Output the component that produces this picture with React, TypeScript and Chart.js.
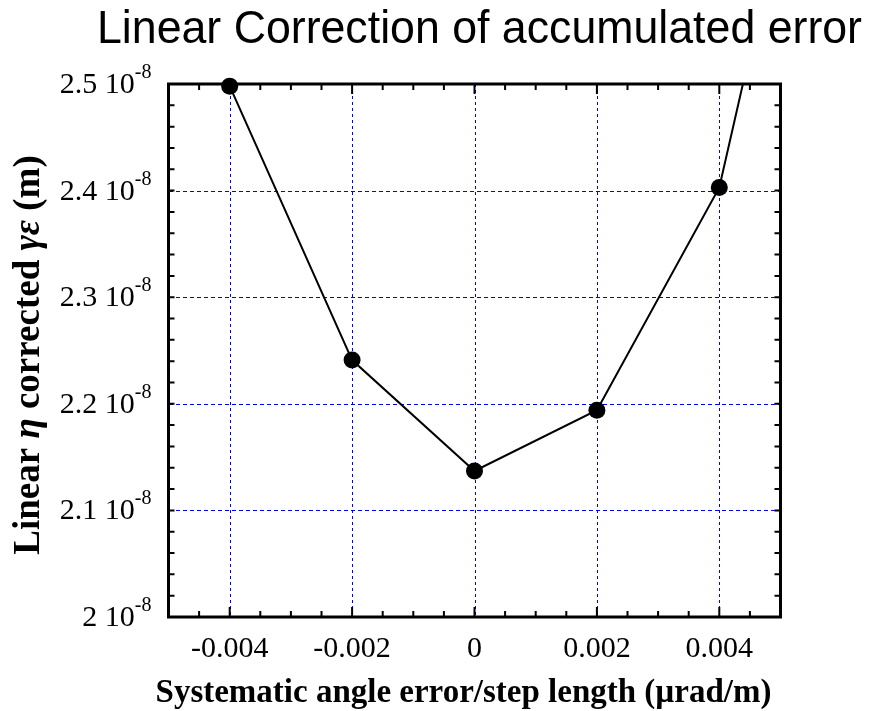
import React, { useEffect, useRef } from "react";
import { Chart, registerables } from "chart.js";
Chart.register(...registerables);

// Data (y values in units of 1e-8 m)
const xValues = [-0.004, -0.002, 0, 0.002, 0.004, 0.006];
const yValues = [2.498, 2.241, 2.137, 2.194, 2.403, 2.906];

const xMin = -0.005;
const xMax = 0.005;
const yMin = 2.0;
const yMax = 2.5;

const xTicks = [-0.004, -0.002, 0, 0.002, 0.004];
const xTickLabels = ["-0.004", "-0.002", "0", "0.002", "0.004"];
const yTicks = [2.0, 2.1, 2.2, 2.3, 2.4, 2.5];
const yTickLabels = ["2", "2.1", "2.2", "2.3", "2.4", "2.5"];
const yExponentBase = " 10";
const yExponent = "-8";
const xMinorStep = 0.0005;
const yMinorStep = 0.02;

const titleText = "Linear Correction of accumulated error";
const xTitleText = "Systematic angle error/step length (\u00b5rad/m)";
const yTitleParts = [
  { t: "Linear ", italic: false },
  { t: "\u03b7", italic: true },
  { t: " corrected ", italic: false },
  { t: "\u03b3\u03b5", italic: true },
  { t: " (m)", italic: false },
];

const SERIF = "'Liberation Serif', 'Times New Roman', serif";
const SANS = "'Liberation Sans', Arial, sans-serif";
const GRID_BLUE = "#0000ff";

const decorPlugin = {
  id: "decor",
  beforeDatasetsDraw(chart: any) {
    const { ctx, chartArea: a, scales } = chart;
    const x = scales.x;
    const y = scales.y;
    ctx.save();
    // grid: crisp dotted blue lines
    ctx.fillStyle = GRID_BLUE;
    const top = Math.round(a.top);
    const bottom = Math.round(a.bottom);
    const left = Math.round(a.left);
    const right = Math.round(a.right);
    xTicks.forEach((v) => {
      const px = Math.round(x.getPixelForValue(v));
      if (px <= left + 2 || px >= right - 2) return;
      for (let yy = top; yy < bottom; yy += 6) {
        ctx.fillRect(px, yy, 1, Math.min(3, bottom - yy));
      }
    });
    yTicks.forEach((v) => {
      const py = Math.round(y.getPixelForValue(v));
      if (py <= top + 2 || py >= bottom - 2) return;
      for (let xx = left; xx < right; xx += 7) {
        ctx.fillRect(xx, py, Math.min(4, right - xx), 1);
      }
    });
    // ticks
    ctx.strokeStyle = "#000";
    ctx.lineWidth = 2;
    const nx = Math.round((xMax - xMin) / xMinorStep);
    for (let i = 1; i < nx; i++) {
      const v = xMin + i * xMinorStep;
      const px = x.getPixelForValue(v);
      const major = xTicks.some((t) => Math.abs(t - v) < 1e-9);
      const len = major ? 10 : 6;
      ctx.beginPath();
      ctx.moveTo(px, a.bottom);
      ctx.lineTo(px, a.bottom - len);
      ctx.moveTo(px, a.top);
      ctx.lineTo(px, a.top + len);
      ctx.stroke();
    }
    const ny = Math.round((yMax - yMin) / yMinorStep);
    for (let i = 1; i < ny; i++) {
      const v = yMin + i * yMinorStep;
      const py = y.getPixelForValue(v);
      ctx.beginPath();
      ctx.moveTo(a.left, py);
      ctx.lineTo(a.left + 6, py);
      ctx.moveTo(a.right, py);
      ctx.lineTo(a.right - 6, py);
      ctx.stroke();
    }
    // frame
    ctx.lineWidth = 3;
    ctx.strokeRect(a.left, a.top, a.right - a.left, a.bottom - a.top);
    ctx.restore();
  },
  afterDraw(chart: any) {
    const { ctx, chartArea: a, scales } = chart;
    const x = scales.x;
    const y = scales.y;
    ctx.save();
    ctx.fillStyle = "#000";
    // x tick labels
    ctx.font = `30px ${SERIF}`;
    ctx.textAlign = "center";
    ctx.textBaseline = "alphabetic";
    xTicks.forEach((v, i) => {
      ctx.fillText(xTickLabels[i], x.getPixelForValue(v), a.bottom + 40);
    });
    // y tick labels with superscript exponent
    yTicks.forEach((v, i) => {
      const py = y.getPixelForValue(v);
      ctx.font = `20px ${SERIF}`;
      const wExp = ctx.measureText(yExponent).width;
      const right = a.left - 17;
      ctx.textAlign = "right";
      ctx.fillText(yExponent, right, py - 6);
      ctx.font = `30px ${SERIF}`;
      ctx.fillText(yTickLabels[i] + yExponentBase, right - wExp, py + 9);
    });
    // title
    ctx.font = `47px ${SANS}`;
    ctx.textAlign = "center";
    const tw = ctx.measureText(titleText).width;
    const sx = Math.min(1, 765 / tw);
    ctx.save();
    ctx.translate(479.5, 43);
    ctx.scale(sx, 1);
    ctx.fillText(titleText, 0, 0);
    ctx.restore();
    // x title
    ctx.font = `bold 33px ${SERIF}`;
    ctx.textAlign = "center";
    ctx.fillText(xTitleText, (a.left + a.right) / 2 - 11, 702);
    // y title (rotated, mixed italics)
    ctx.save();
    ctx.translate(39, 355);
    ctx.rotate(-Math.PI / 2);
    ctx.textAlign = "left";
    const fonts = yTitleParts.map((p) =>
      p.italic ? `italic bold 37px ${SERIF}` : `bold 37px ${SERIF}`
    );
    let total = 0;
    const widths = yTitleParts.map((p, i) => {
      ctx.font = fonts[i];
      const w = ctx.measureText(p.t).width;
      total += w;
      return w;
    });
    let cx = -total / 2;
    yTitleParts.forEach((p, i) => {
      ctx.font = fonts[i];
      ctx.fillText(p.t, cx, 0);
      cx += widths[i];
    });
    ctx.restore();
    ctx.restore();
  },
};

export default function App() {
  const ref = useRef<HTMLCanvasElement | null>(null);
  useEffect(() => {
    if (!ref.current) return;
    const points = xValues.map((v, i) => ({ x: v, y: yValues[i] }));
    const chart = new Chart(ref.current, {
      type: "scatter",
      data: {
        datasets: [
          {
            label: "markers",
            data: points,
            showLine: false,
            pointRadius: 8.5,
            pointHoverRadius: 8.5,
            pointBackgroundColor: "#000",
            pointBorderColor: "#000",
            pointBorderWidth: 0,
            clip: false as any,
          },
          {
            label: "line",
            data: points,
            showLine: true,
            borderColor: "#000",
            borderWidth: 2,
            pointRadius: 0,
            pointHoverRadius: 0,
          },
        ],
      },
      options: {
        responsive: false,
        maintainAspectRatio: false,
        animation: false,
        events: [],
        layout: { padding: { left: 168.5, right: 94.5, top: 84, bottom: 94 } },
        plugins: { legend: { display: false }, tooltip: { enabled: false }, title: { display: false } },
        scales: {
          x: { type: "linear", min: xMin, max: xMax, display: false },
          y: { type: "linear", min: yMin, max: yMax, display: false },
        },
      },
      plugins: [decorPlugin],
    });
    return () => chart.destroy();
  }, []);
  return (
    <div style={{ position: "absolute", left: 0, top: 0, width: 875, height: 711, background: "#fff" }}>
      <canvas ref={ref} width={875} height={711} style={{ display: "block" }} />
    </div>
  );
}
